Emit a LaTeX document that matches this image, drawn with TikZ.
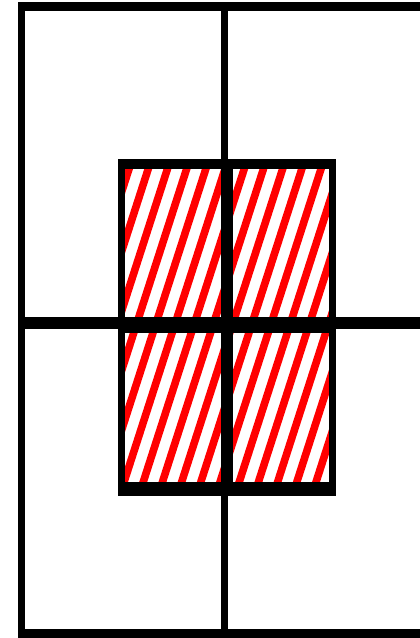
\documentclass[tikz,border=0pt]{standalone}
\begin{document}
\begin{tikzpicture}[x=1pt,y=-1pt,
  band/.style={fill=black},
  stripe/.style={draw=red,line width=7.6pt}]
\useasboundingbox (0,0) rectangle (420,638);
\fill[white] (0,0) rectangle (420,638);
% hatching inside the inner rectangle
\begin{scope}
\clip (125,169) rectangle (329,482);
\foreach \k in {-2,...,17}{
  \draw[stripe] ({129+19.2*\k+6.13},150) -- ({129+19.2*\k-106.77},500);
}
\end{scope}
% outer frame
\fill[band] (18,2) rectangle (420,11);
\fill[band] (18,2) rectangle (25,638);
\fill[band] (18,629) rectangle (420,638);
\fill[band] (221,2) rectangle (228,638);
\fill[band] (18,317) rectangle (420,329);
% inner rectangle frame
\fill[band] (118,159) rectangle (336,169);
\fill[band] (118,159) rectangle (125,496);
\fill[band] (329,159) rectangle (336,496);
\fill[band] (118,482) rectangle (336,496);
\fill[band] (221,159) rectangle (233,496);
\fill[band] (118,317) rectangle (336,333);
\end{tikzpicture}
\end{document}
